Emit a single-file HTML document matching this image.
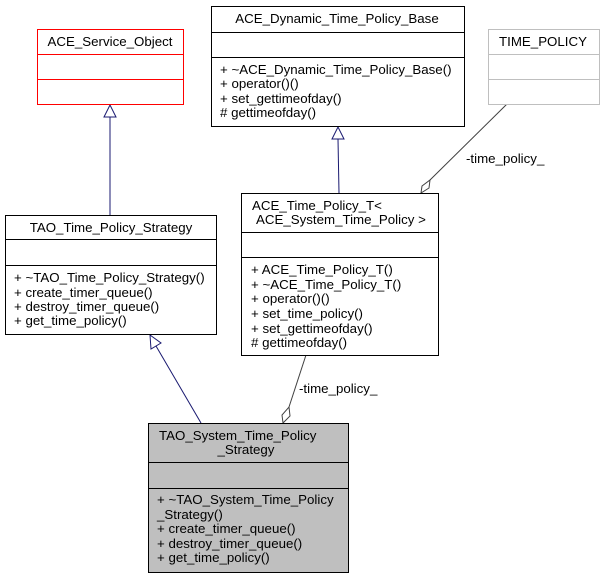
<!DOCTYPE html>
<html><head><meta charset="utf-8"><style>html,body{margin:0;padding:0;background:#fff}</style></head><body>
<svg width="604" height="579" viewBox="0 0 604 579" xmlns="http://www.w3.org/2000/svg" font-family="Liberation Sans, sans-serif" font-size="13.3" fill="#000">
<g stroke="#191970" fill="none">
<line x1="110" y1="117" x2="110" y2="215"/>
<polygon points="110,105 104,117 116,117" fill="#fff"/>
<line x1="338" y1="139" x2="339" y2="193"/>
<polygon points="338,127 332,139 344,139" fill="#fff"/>
<line x1="156" y1="346" x2="201" y2="423"/>
<polygon points="150,335 151,349 161,343" fill="#fff"/>
</g>
<g stroke="#404040" fill="none">
<line x1="507" y1="104" x2="430" y2="180"/>
<polygon points="421,193 422,186 430,180 429,188" fill="#fff"/>
<line x1="306" y1="355" x2="289" y2="407"/>
<polygon points="283,423 282,415 289,407 290,416" fill="#fff"/>
</g>
<text x="466" y="163">-time_policy_</text>
<text x="299" y="393">-time_policy_</text>
<g stroke="#ff0000" fill="#fff"><rect x="37.5" y="29.5" width="146" height="75"/><line x1="37" y1="54.5" x2="184" y2="54.5"/><line x1="37" y1="79.5" x2="184" y2="79.5"/></g>
<text x="110" y="46" text-anchor="middle">ACE_Service_Object</text>
<g stroke="#000" fill="#fff"><rect x="211.5" y="6.5" width="253" height="120"/><line x1="211" y1="32.5" x2="465" y2="32.5"/><line x1="211" y1="57.5" x2="465" y2="57.5"/></g>
<text x="337" y="23" text-anchor="middle">ACE_Dynamic_Time_Policy_Base</text>
<text x="220" y="74">+ ~ACE_Dynamic_Time_Policy_Base()</text>
<text x="220" y="88">+ operator()()</text>
<text x="220" y="103">+ set_gettimeofday()</text>
<text x="220" y="117"># gettimeofday()</text>
<g stroke="#bfbfbf" fill="#fff"><rect x="488.5" y="29.5" width="111" height="75"/><line x1="488" y1="54.5" x2="600" y2="54.5"/><line x1="488" y1="79.5" x2="600" y2="79.5"/></g>
<text x="543" y="46" text-anchor="middle">TIME_POLICY</text>
<g stroke="#000" fill="#fff"><rect x="5.5" y="215.5" width="211" height="119"/><line x1="5" y1="239.5" x2="217" y2="239.5"/><line x1="5" y1="265.5" x2="217" y2="265.5"/></g>
<text x="111" y="232" text-anchor="middle">TAO_Time_Policy_Strategy</text>
<text x="14" y="282">+ ~TAO_Time_Policy_Strategy()</text>
<text x="14" y="297">+ create_timer_queue()</text>
<text x="14" y="311">+ destroy_timer_queue()</text>
<text x="14" y="325">+ get_time_policy()</text>
<g stroke="#000" fill="#fff"><rect x="241.5" y="193.5" width="197" height="162"/><line x1="241" y1="232.5" x2="439" y2="232.5"/><line x1="241" y1="257.5" x2="439" y2="257.5"/></g>
<text x="252" y="210">ACE_Time_Policy_T&lt;</text>
<text x="256" y="224">ACE_System_Time_Policy &gt;</text>
<text x="251" y="274">+ ACE_Time_Policy_T()</text>
<text x="251" y="289">+ ~ACE_Time_Policy_T()</text>
<text x="251" y="303">+ operator()()</text>
<text x="251" y="318">+ set_time_policy()</text>
<text x="251" y="333">+ set_gettimeofday()</text>
<text x="251" y="347"># gettimeofday()</text>
<g stroke="#000" fill="#bfbfbf"><rect x="148.5" y="423.5" width="200" height="149"/><line x1="148" y1="462.5" x2="349" y2="462.5"/><line x1="148" y1="488.5" x2="349" y2="488.5"/></g>
<text x="159" y="440">TAO_System_Time_Policy</text>
<text x="246" y="454" text-anchor="middle">_Strategy</text>
<text x="157" y="504">+ ~TAO_System_Time_Policy</text>
<text x="157" y="519">_Strategy()</text>
<text x="157" y="533">+ create_timer_queue()</text>
<text x="157" y="548">+ destroy_timer_queue()</text>
<text x="157" y="562">+ get_time_policy()</text>
</svg>
</body></html>
